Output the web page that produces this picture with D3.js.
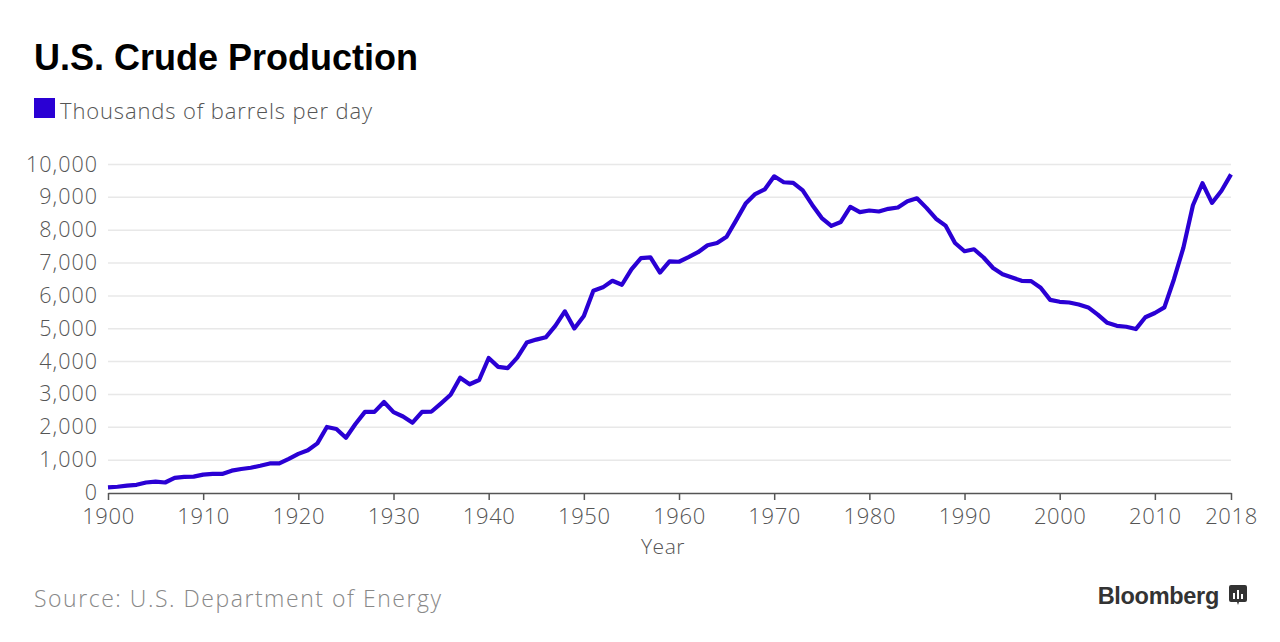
<!DOCTYPE html>
<html><head><meta charset="utf-8">
<script src="https://cdn.jsdelivr.net/npm/d3@7"></script>
<style>body{margin:0;background:#fff}svg{display:block}</style>
</head><body>
<svg id="c" width="1280" height="642"></svg>
<script>
const years = d3.range(1900, 2019);
const production = [
170,190,225,250,320,345,320,460,490,500,
560,580,580,680,730,770,830,900,900,1040,
1190,1300,1510,2010,1950,1680,2100,2470,2470,2770,
2460,2330,2140,2470,2480,2730,2990,3510,3310,3440,
4110,3840,3800,4120,4580,4670,4740,5090,5530,5010,
5390,6160,6260,6460,6340,6810,7150,7170,6710,7050,
7040,7180,7330,7540,7610,7800,8300,8810,9100,9240,
9640,9460,9440,9210,8770,8370,8130,8250,8710,8550,
8600,8570,8650,8690,8880,8970,8680,8350,8140,7610,
7360,7420,7170,6850,6660,6560,6460,6450,6250,5880,
5820,5800,5740,5650,5430,5180,5090,5060,4990,5350,
5480,5650,6500,7470,8760,9430,8830,9200,9700];
const yTicks = [0,1000,2000,3000,4000,5000,6000,7000,8000,9000,10000];
const xTicks = [1900,1910,1920,1930,1940,1950,1960,1970,1980,1990,2000,2010,2018];
const seriesName = "Thousands of barrels per day";
const lineColor = "#2a00d4";

const svg = d3.select("#c");
const sans = "'Open Sans', 'Noto Sans', sans-serif";
const x = d3.scaleLinear().domain([1900, 2018]).range([108, 1231]);
const y = d3.scaleLinear().domain([0, 10000]).range([493, 164.5]);

svg.append("text").attr("x", 34).attr("y", 70)
  .attr("font-family", "'Liberation Sans', Arial, sans-serif").attr("font-weight", "bold")
  .attr("font-size", 36).attr("fill", "#000").text("U.S. Crude Production");

svg.append("rect").attr("x", 34).attr("y", 98).attr("width", 21).attr("height", 20).attr("fill", lineColor);
svg.append("text").attr("x", 60).attr("y", 119).attr("font-family", sans).attr("font-weight", 300)
  .attr("font-size", 22).attr("fill", "#555").attr("textLength", 312).attr("lengthAdjust", "spacing").text(seriesName);

// gridlines
svg.append("g").selectAll("line").data(yTicks.filter(d => d > 0)).join("line")
  .attr("x1", 108).attr("x2", 1231).attr("y1", d => y(d)).attr("y2", d => y(d))
  .attr("stroke", "#e8e8e8").attr("stroke-width", 1.5);

// y labels
svg.append("g").selectAll("text").data(yTicks).join("text")
  .attr("x", 98).attr("y", d => y(d) + 7).attr("text-anchor", "end")
  .attr("font-family", sans).attr("font-weight", 300).attr("font-size", 21.5).attr("letter-spacing", 1).attr("fill", "#555")
  .text(d => d3.format(",")(d));

// x axis
const xAxis = d3.axisBottom(x).tickValues(xTicks).tickFormat(d3.format("d")).tickSizeInner(7).tickSizeOuter(0);
const gx = svg.append("g").attr("transform", "translate(0,493)").call(xAxis);
gx.select(".domain").attr("stroke", "#555").attr("stroke-width", 1.5);
gx.selectAll(".tick line").attr("stroke", "#555").attr("stroke-width", 1.5);
gx.selectAll(".tick text").attr("font-family", sans).attr("font-weight", 300)
  .attr("font-size", 22).attr("letter-spacing", 0.6).attr("fill", "#555").attr("dy", null).attr("y", 31);

svg.append("text").attr("x", 663).attr("y", 554).attr("text-anchor", "middle")
  .attr("font-family", sans).attr("font-weight", 300).attr("font-size", 21).attr("letter-spacing", 0.5).attr("fill", "#555").text("Year");

// line
const line = d3.line().x((d, i) => x(years[i])).y(d => y(d));
svg.append("path").datum(production).attr("d", line).attr("fill", "none")
  .attr("stroke", lineColor).attr("stroke-width", 4.2).attr("stroke-linejoin", "round");

svg.append("text").attr("x", 34).attr("y", 607).attr("font-family", sans).attr("font-weight", 300)
  .attr("font-size", 23).attr("fill", "#888").attr("textLength", 407).attr("lengthAdjust", "spacing").text("Source: U.S. Department of Energy");

svg.append("text").attr("x", 1219).attr("y", 604).attr("text-anchor", "end")
  .attr("font-family", "'Liberation Sans', Arial, sans-serif").attr("font-weight", "bold")
  .attr("font-size", 23.5).attr("fill", "#333").attr("letter-spacing", -0.3).text("Bloomberg");
// icon
const ic = svg.append("g").attr("transform", "translate(1229,585)");
ic.append("path").attr("d", "M0,2 Q0,0 2,0 L16,0 Q18,0 18,2 L18,15 Q18,17 16,17 L10,17 L9,20 L8,17 L2,17 Q0,17 0,15 Z").attr("fill", "#333");
[[4,8,2,6],[8,5,2,9],[12,9,2,5]].forEach(b => ic.append("rect").attr("x", b[0]).attr("y", b[1]).attr("width", b[2]).attr("height", b[3]).attr("fill", "#fff"));
</script>
</body></html>
